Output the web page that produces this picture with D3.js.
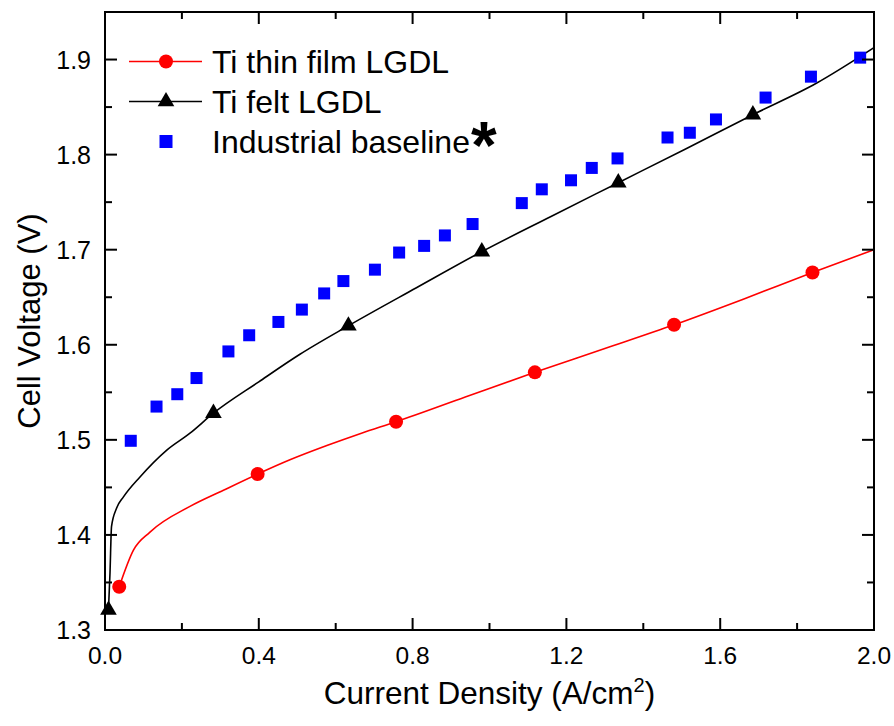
<!DOCTYPE html>
<html>
<head>
<meta charset="utf-8">
<script src="https://cdn.jsdelivr.net/npm/d3@7"></script>
<style>
    body { margin: 0; background: #fff; }
    svg { display: block; font-family: "Liberation Sans", Arial, sans-serif; }
</style>
</head>
<body>
<svg id="chart" width="894" height="726"></svg>
<script>
// Ti thin film LGDL: traced curve + marker positions
const thinFilmLine = [
    [0.037, 1.3455], [0.074, 1.384], [0.117, 1.403], [0.221, 1.430], [0.308, 1.447],
    [0.397, 1.464], [0.481, 1.479], [0.577, 1.494], [0.667, 1.507], [0.757, 1.519],
    [0.937, 1.545], [1.118, 1.571], [1.300, 1.596], [1.480, 1.621], [1.660, 1.648],
    [1.840, 1.676], [2.000, 1.700]
];
const thinFilmMarkers = [
    [0.037, 1.3455], [0.397, 1.464], [0.757, 1.519], [1.118, 1.571], [1.480, 1.621], [1.840, 1.676]
];

// Ti felt LGDL
const feltLine = [
    [0.009, 1.321], [0.013, 1.360], [0.017, 1.409], [0.030, 1.428], [0.048, 1.440],
    [0.091, 1.461], [0.160, 1.489], [0.221, 1.507], [0.282, 1.528], [0.400, 1.561],
    [0.507, 1.590], [0.633, 1.620], [0.810, 1.660], [0.980, 1.698], [1.160, 1.735],
    [1.335, 1.7705], [1.510, 1.806], [1.685, 1.842], [1.850, 1.875], [2.000, 1.9125]
];
const feltMarkers = [
    [0.009, 1.321], [0.282, 1.528], [0.633, 1.620], [0.980, 1.698], [1.335, 1.7705], [1.685, 1.842]
];

// Industrial baseline (scatter only)
const baselinePoints = [
    [0.067, 1.499], [0.134, 1.535], [0.188, 1.548], [0.238, 1.565], [0.321, 1.593],
    [0.375, 1.610], [0.451, 1.624], [0.512, 1.637], [0.570, 1.654], [0.620, 1.667],
    [0.702, 1.679], [0.765, 1.697], [0.830, 1.704], [0.884, 1.715], [0.956, 1.727],
    [1.084, 1.749], [1.136, 1.7635], [1.212, 1.773], [1.266, 1.786], [1.333, 1.796],
    [1.463, 1.818], [1.521, 1.823], [1.589, 1.837], [1.718, 1.860], [1.836, 1.882],
    [1.964, 1.902]
];

const xMajorTicks = [0.0, 0.4, 0.8, 1.2, 1.6, 2.0];
const xMinorTicks = [0.2, 0.6, 1.0, 1.4, 1.8];
const yMajorTicks = [1.3, 1.4, 1.5, 1.6, 1.7, 1.8, 1.9];
const yMinorTicks = [1.35, 1.45, 1.55, 1.65, 1.75, 1.85];

const legendLabels = ["Ti thin film LGDL", "Ti felt LGDL", "Industrial baseline"];

const width = 894, height = 726;
const margin = {top: 12, right: 20, bottom: 96, left: 105};

const svg = d3.select("#chart");

const x = d3.scaleLinear().domain([0, 2.0]).range([margin.left, width - margin.right]);
const y = d3.scaleLinear().domain([1.3, 1.95]).range([height - margin.bottom, margin.top]);

const RED = "#ff0000", BLUE = "#0000ff";

// clip to the plot box
svg.append("clipPath").attr("id", "plot-clip")
    .append("rect")
    .attr("x", x(0)).attr("y", y(1.95))
    .attr("width", x(2) - x(0)).attr("height", y(1.3) - y(1.95));

const plot = svg.append("g").attr("clip-path", "url(#plot-clip)");

const line = d3.line()
    .x(d => x(d[0]))
    .y(d => y(d[1]))
    .curve(d3.curveMonotoneX);

plot.append("path")
    .attr("d", line(thinFilmLine))
    .attr("fill", "none")
    .attr("stroke", RED)
    .attr("stroke-width", 1.6);

plot.append("path")
    .attr("d", line(feltLine))
    .attr("fill", "none")
    .attr("stroke", "#000")
    .attr("stroke-width", 1.6);

const markers = svg.append("g");

markers.selectAll("rect.baseline")
    .data(baselinePoints)
    .join("rect")
    .attr("class", "baseline")
    .attr("x", d => x(d[0]) - 6)
    .attr("y", d => y(d[1]) - 6)
    .attr("width", 12)
    .attr("height", 12)
    .attr("fill", BLUE);

markers.selectAll("circle.thin")
    .data(thinFilmMarkers)
    .join("circle")
    .attr("class", "thin")
    .attr("cx", d => x(d[0]))
    .attr("cy", d => y(d[1]))
    .attr("r", 7)
    .attr("fill", RED);

const triangle = d3.symbol().type(d3.symbolTriangle).size(120);

markers.selectAll("path.felt")
    .data(feltMarkers)
    .join("path")
    .attr("class", "felt")
    .attr("transform", d => `translate(${x(d[0])},${y(d[1])})`)
    .attr("d", triangle)
    .attr("fill", "#000");

// axes: frame with inward ticks on all four sides
const axes = svg.append("g").attr("stroke", "#000").attr("stroke-width", 2);
const x0 = x(0), x1 = x(2), yb = y(1.3), yt = y(1.95);
const majorLen = 12, minorLen = 7;

axes.append("rect")
    .attr("x", x0).attr("y", yt)
    .attr("width", x1 - x0).attr("height", yb - yt)
    .attr("fill", "none");

function xTicks(values, len)
{
    values.forEach(v => {
        axes.append("line").attr("x1", x(v)).attr("x2", x(v)).attr("y1", yb).attr("y2", yb - len);
        axes.append("line").attr("x1", x(v)).attr("x2", x(v)).attr("y1", yt).attr("y2", yt + len);
    });
}

function yTicks(values, len)
{
    values.forEach(v => {
        axes.append("line").attr("x1", x0).attr("x2", x0 + len).attr("y1", y(v)).attr("y2", y(v));
        axes.append("line").attr("x1", x1).attr("x2", x1 - len).attr("y1", y(v)).attr("y2", y(v));
    });
}

xTicks(xMajorTicks, majorLen);
xTicks(xMinorTicks, minorLen);
yTicks(yMajorTicks, majorLen);
yTicks(yMinorTicks, minorLen);

const labels = svg.append("g").attr("fill", "#000");

labels.selectAll("text.xtick")
    .data(xMajorTicks)
    .join("text")
    .attr("class", "xtick")
    .attr("x", d => x(d))
    .attr("y", yb + 34)
    .attr("text-anchor", "middle")
    .attr("font-size", 24.5)
    .text(d => d.toFixed(1));

labels.selectAll("text.ytick")
    .data(yMajorTicks)
    .join("text")
    .attr("class", "ytick")
    .attr("x", x0 - 14)
    .attr("y", d => y(d))
    .attr("dy", "0.36em")
    .attr("text-anchor", "end")
    .attr("font-size", 25)
    .text(d => d.toFixed(1));

const xTitle = labels.append("text")
    .attr("x", (x0 + x1) / 2)
    .attr("y", 704)
    .attr("text-anchor", "middle")
    .attr("font-size", 31.5);
xTitle.append("tspan").text("Current Density (A/cm");
xTitle.append("tspan").attr("font-size", 20).attr("dy", -12).text("2");
xTitle.append("tspan").attr("dy", 12).text(")");

labels.append("text")
    .attr("transform", `translate(40,${(yt + yb) / 2}) rotate(-90)`)
    .attr("text-anchor", "middle")
    .attr("font-size", 31)
    .text("Cell Voltage (V)");

// legend
const legend = svg.append("g");
const legendRowY = [61.5, 101.5, 141.5];
const lx0 = 129, lx1 = 202, lmid = 166, ltext = 212;

legend.append("line").attr("x1", lx0).attr("x2", lx1)
    .attr("y1", legendRowY[0]).attr("y2", legendRowY[0])
    .attr("stroke", RED).attr("stroke-width", 1.6);
legend.append("circle").attr("cx", lmid).attr("cy", legendRowY[0]).attr("r", 7).attr("fill", RED);

legend.append("line").attr("x1", lx0).attr("x2", lx1)
    .attr("y1", legendRowY[1]).attr("y2", legendRowY[1])
    .attr("stroke", "#000").attr("stroke-width", 1.6);
legend.append("path").attr("transform", `translate(${lmid},${legendRowY[1]})`)
    .attr("d", triangle).attr("fill", "#000");

legend.append("rect").attr("x", lmid - 6.5).attr("y", legendRowY[2] - 6.5)
    .attr("width", 13).attr("height", 13).attr("fill", BLUE);

const legendTexts = legend.selectAll("text.leg")
    .data(legendLabels)
    .join("text")
    .attr("class", "leg")
    .attr("x", ltext)
    .attr("y", (d, i) => legendRowY[i] + 11)
    .attr("font-size", 32)
    .text(d => d);

// big asterisk right after "Industrial baseline"
const lastEnd = ltext + legendTexts.nodes()[2].getComputedTextLength();
legend.append("text")
    .attr("x", lastEnd + 1)
    .attr("y", 168)
    .attr("font-size", 66)
    .attr("font-weight", "bold")
    .text("*");
</script>
</body>
</html>
